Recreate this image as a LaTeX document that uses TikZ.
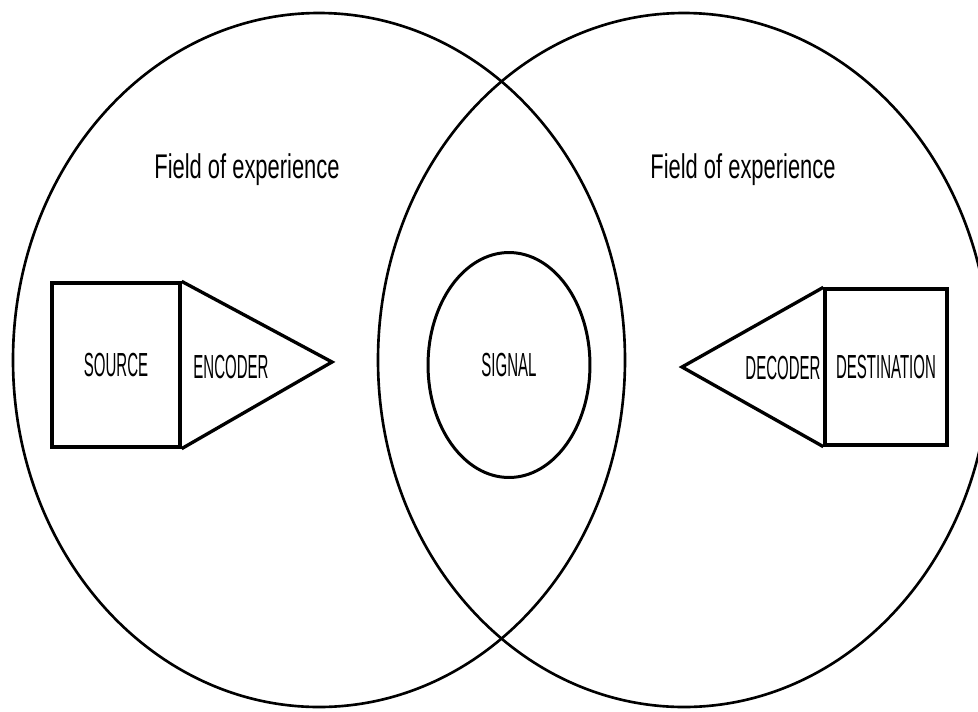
\documentclass[tikz,border=0pt]{standalone}
\usepackage{fontspec}
\setmainfont{Liberation Sans}
\newfontfamily\fieldfont[FakeStretch=0.64]{Liberation Sans}
\newfontfamily\capsfont[FakeStretch=0.45]{Liberation Sans}
\usetikzlibrary{shapes.geometric}

\tikzset{
	field/.style={line width=1.5pt},
	part/.style={draw, line width=1.9pt, inner sep=0pt},
	caps/.style={font=\fontsize{19}{19}\selectfont\capsfont, inner sep=0pt},
	fieldtext/.style={font=\fontsize{19.5}{19.5}\selectfont\fieldfont, anchor=base, inner sep=0pt},
}

\begin{document}
\begin{tikzpicture}[x=0.02cm, y=-0.02cm]
			\useasboundingbox (0, 0) rectangle (978, 711);
			\clip (0, 0) rectangle (978, 711);
			\fill [white] (0, 0) rectangle (978, 711);
			\draw [field] (319, 360) ellipse [x radius=306, y radius=347];
			\draw [field] (684, 360) ellipse [x radius=306, y radius=347];
			\node [fieldtext] (fieldsrc) at (247, 178) {Field of experience};
			\node [fieldtext] (fielddst) at (743, 178) {Field of experience};
			\node [part, caps, minimum width=2.56cm, minimum height=3.28cm] (source) at (116, 365) {SOURCE};
			\node [part, caps, minimum width=2.44cm, minimum height=3.12cm] (destination) at (886, 367) {DESTINATION};
			\coordinate (encapex) at (332, 362);
			\coordinate (decapex) at (682, 367);
			\draw [part, line join=miter] (source.north east) -- (encapex) -- (source.south east);
			\draw [part, line join=miter] (destination.north west) -- (decapex) -- (destination.south west);
			\node [caps] (encoder) at (231, 367) {ENCODER};
			\node [caps] (decoder) at (783, 368) {DECODER};
			\node [part, caps, ellipse, line width=1.7pt, minimum width=3.24cm, minimum height=4.5cm] (signal) at (509, 365) {SIGNAL};
		\end{tikzpicture}
\end{document}
